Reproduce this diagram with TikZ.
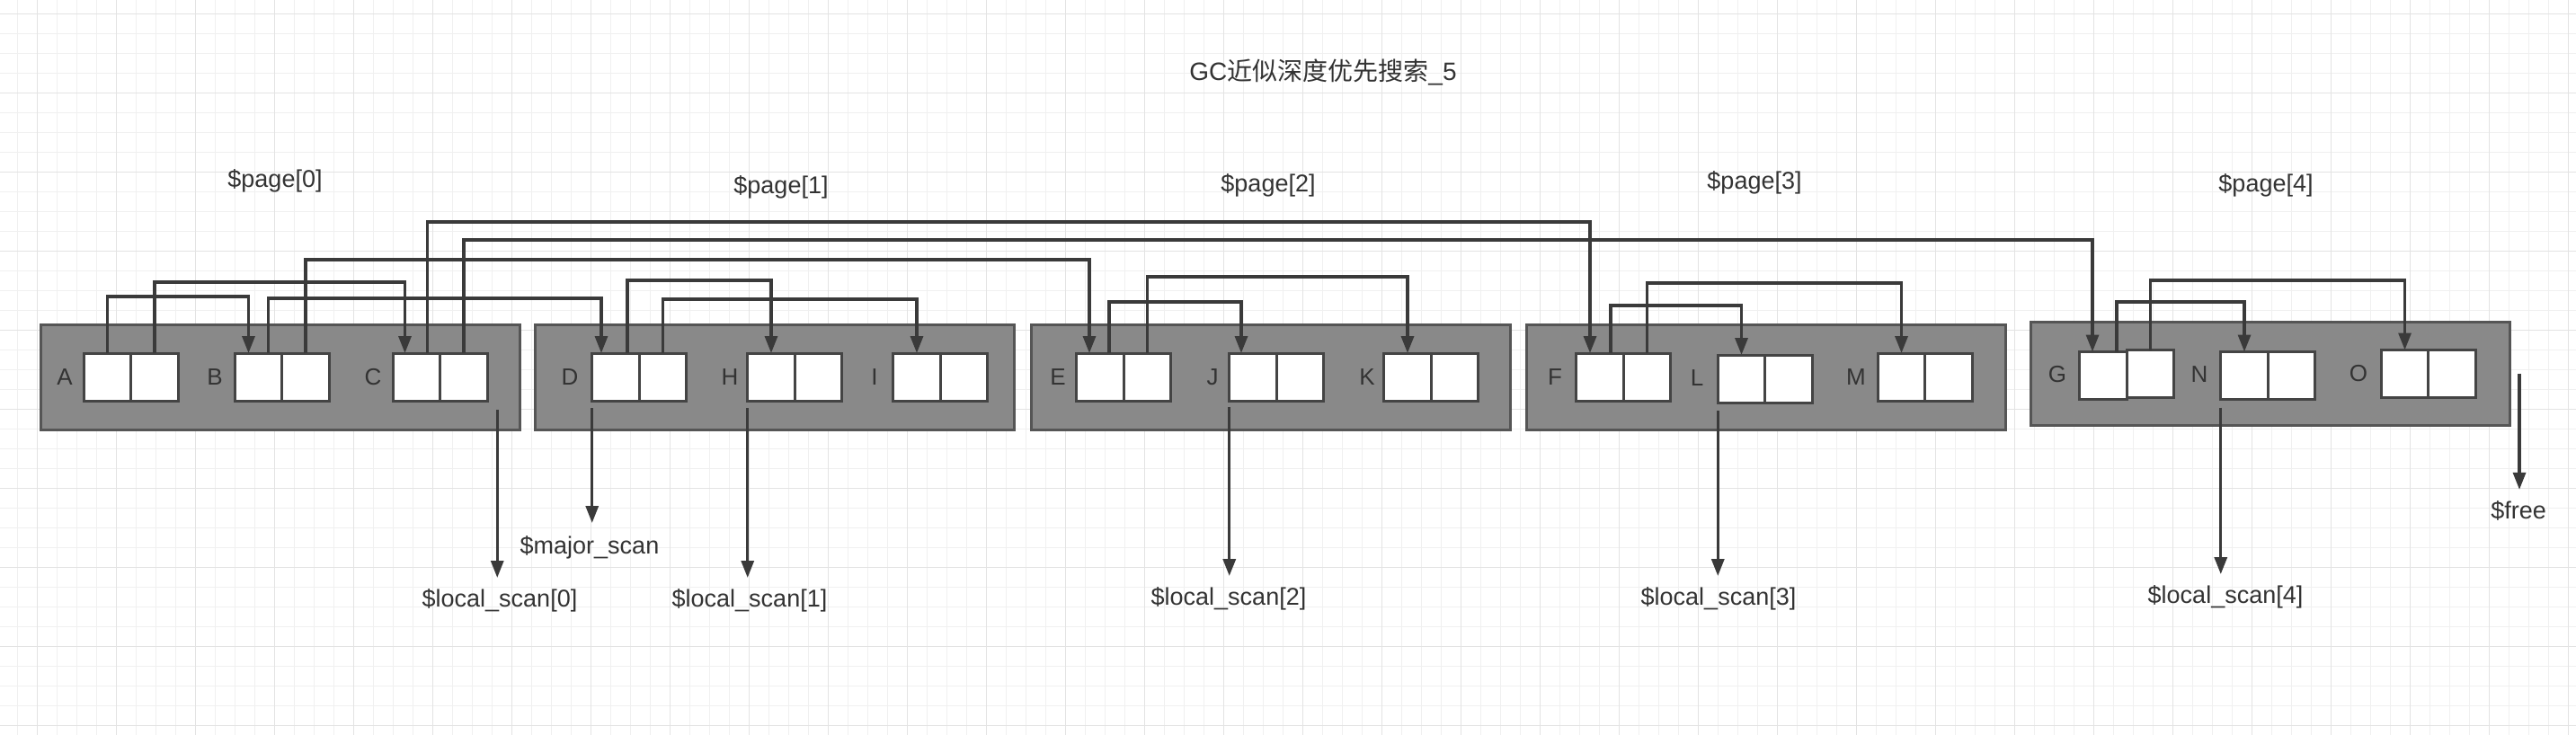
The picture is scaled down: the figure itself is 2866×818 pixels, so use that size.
\documentclass[tikz,border=0pt]{standalone}
\usepackage{fontspec}
\setmainfont{Liberation Sans}
\newfontfamily\cjk{Noto Sans CJK SC}
\usepackage{xcolor}
\usepackage{tikz}
\usetikzlibrary{arrows.meta,positioning}
\definecolor{ink}{HTML}{333333}
\definecolor{wire}{HTML}{3A3A3A}
\definecolor{pagefill}{HTML}{898989}
\definecolor{pageline}{HTML}{555555}
\definecolor{cellline}{HTML}{444444}
\definecolor{gridminor}{HTML}{F0F0F0}
\definecolor{gridmajor}{HTML}{E3E3E3}
\tikzset{
  pagebox/.style={draw=pageline, fill=pagefill, line width=3pt, minimum width=533pt, minimum height=117pt, inner sep=0pt, outer sep=0pt},
  cellbox/.style={draw=cellline, fill=white, line width=3pt, minimum width=52.5pt, minimum height=53pt, inner sep=0pt, outer sep=0pt},
  conn/.style={draw=wire, line width=3.2pt, -{Triangle[length=19pt,width=14pt]}},
  lbl/.style={text=ink, font=\fontsize{27}{32}\selectfont, inner sep=0pt},
  cname/.style={text=ink, font=\fontsize{26}{30}\selectfont, inner sep=0pt},
  gline/.style={draw=gridminor, line width=1pt},
  gmajor/.style={draw=gridmajor, line width=1.5pt}
}
\begin{document}
\begin{tikzpicture}[x=1pt, y=-1pt]
  \useasboundingbox (0,0) rectangle (2866,818);
  \fill[white] (0,0) rectangle (2866,818);

  % background grid
  \foreach \gx in {19.3,41.3,...,2866} \draw[gline] (\gx,0) -- (\gx,818);
  \foreach \gy in {15.7,37.7,...,818} \draw[gline] (0,\gy) -- (2866,\gy);
  \foreach \gx in {41.3,129.3,...,2866} \draw[gmajor] (\gx,0) -- (\gx,818);
  \foreach \gy in {15.7,103.7,...,818} \draw[gmajor] (0,\gy) -- (2866,\gy);

  \node[lbl, font=\fontsize{28}{32}\selectfont] (title) at (1472,80) {GC{\cjk 近似深度优先搜索}\_5};

  % pages
  \node[pagebox] (P0) at (311.5,419.5) {};
  \node[pagebox] (P1) at (861.5,419.5) {};
  \node[pagebox] (P2) at (1413.5,419.5) {};
  \node[pagebox] (P3) at (1965,419.5) {};
  \node[pagebox, minimum height=115pt] (P4) at (2525.5,415.5) {};

  \node[lbl] (pl0) at (306,201) {\$page[0]};
  \node[lbl] (pl1) at (869,208) {\$page[1]};
  \node[lbl] (pl2) at (1411,206) {\$page[2]};
  \node[lbl] (pl3) at (1952,203) {\$page[3]};
  \node[lbl] (pl4) at (2521,206) {\$page[4]};

  % objects
  \node[cellbox] (A1) at (119.5,419.5) {};
  \node[cellbox, right=0pt of A1] (A2) {};
  \node[cellbox] (B1) at (287.5,419.5) {};
  \node[cellbox, right=0pt of B1] (B2) {};
  \node[cellbox] (C1) at (463.5,419.5) {};
  \node[cellbox, right=0pt of C1] (C2) {};
  \node[cellbox] (D1) at (685,419.5) {};
  \node[cellbox, right=0pt of D1] (D2) {};
  \node[cellbox] (H1) at (858,419.5) {};
  \node[cellbox, right=0pt of H1] (H2) {};
  \node[cellbox] (I1) at (1020,419.5) {};
  \node[cellbox, right=0pt of I1] (I2) {};
  \node[cellbox] (E1) at (1224,419.5) {};
  \node[cellbox, right=0pt of E1] (E2) {};
  \node[cellbox] (J1) at (1394,419.5) {};
  \node[cellbox, right=0pt of J1] (J2) {};
  \node[cellbox] (K1) at (1566,419.5) {};
  \node[cellbox, right=0pt of K1] (K2) {};
  \node[cellbox] (F1) at (1780,419.5) {};
  \node[cellbox, right=0pt of F1] (F2) {};
  \node[cellbox] (L1) at (1937.5,421.5) {};
  \node[cellbox, right=0pt of L1] (L2) {};
  \node[cellbox] (M1) at (2115.5,419.5) {};
  \node[cellbox, right=0pt of M1] (M2) {};
  \node[cellbox] (G1) at (2340,418) {};
  \node[cellbox, right=0pt of G1, yshift=2pt] (G2) {};
  \node[cellbox] (N1) at (2497,418) {};
  \node[cellbox, right=0pt of N1] (N2) {};
  \node[cellbox] (O1) at (2675.5,416) {};
  \node[cellbox, right=0pt of O1] (O2) {};

  \node[cname] (nA) at (72,420) {A};
  \node[cname] (nB) at (239,420) {B};
  \node[cname] (nC) at (415,420) {C};
  \node[cname] (nD) at (634,420) {D};
  \node[cname] (nH) at (812,420) {H};
  \node[cname] (nI) at (973,420) {I};
  \node[cname] (nE) at (1177,420) {E};
  \node[cname] (nJ) at (1349,420) {J};
  \node[cname] (nK) at (1521,420) {K};
  \node[cname] (nF) at (1730,420) {F};
  \node[cname] (nL) at (1888,421) {L};
  \node[cname] (nM) at (2065,420) {M};
  \node[cname] (nG) at (2289,417) {G};
  \node[cname] (nN) at (2447,417) {N};
  \node[cname] (nO) at (2624,416) {O};

  % references
  \draw[conn] (A1.north) -- (A1.north |- 0,330) -| ([xshift=-11pt]B1.north);
  \draw[conn] (A2.north) -- (A2.north |- 0,314) -| ([xshift=-13pt]C1.north);
  \draw[conn] ([xshift=11pt]B1.north) -- ([xshift=11pt]B1.north |- 0,332) -| ([xshift=-16pt]D1.north);
  \draw[conn] (B2.north) -- (B2.north |- 0,289) -| ([xshift=-12pt]E1.north);
  \draw[conn] ([xshift=12pt]C1.north) -- ([xshift=12pt]C1.north |- 0,247) -| ([xshift=-11pt]F1.north);
  \draw[conn] (C2.north) -- (C2.north |- 0,267) -| ([xshift=-12pt]G1.north);
  \draw[conn] ([xshift=13pt]D1.north) -- ([xshift=13pt]D1.north |- 0,312) -| (H1.north);
  \draw[conn] (D2.north) -- (D2.north |- 0,333) -| (I1.north);
  \draw[conn] ([xshift=10pt]E1.north) -- ([xshift=10pt]E1.north |- 0,336) -| ([xshift=-13pt]J1.north);
  \draw[conn] (E2.north) -- (E2.north |- 0,308) -| (K1.north);
  \draw[conn] ([xshift=12pt]F1.north) -- ([xshift=12pt]F1.north |- 0,340) -| (L1.north);
  \draw[conn] (F2.north) -- (F2.north |- 0,315) -| (M1.north);
  \draw[conn] ([xshift=15pt]G1.north) -- ([xshift=15pt]G1.north |- 0,336) -| (N1.north);
  \draw[conn] (G2.north) -- (G2.north |- 0,312) -| (O1.north);

  % scan pointers
  \node[lbl] (ls0) at (556,668) {\$local\_scan[0]};
  \node[lbl] (lmaj) at (656,609) {\$major\_scan};
  \node[lbl] (ls1) at (834,668) {\$local\_scan[1]};
  \node[lbl] (ls2) at (1367,666) {\$local\_scan[2]};
  \node[lbl] (ls3) at (1912,666) {\$local\_scan[3]};
  \node[lbl] (ls4) at (2476,664) {\$local\_scan[4]};
  \node[lbl] (lfree) at (2802,568) {\$free};

  \coordinate (s0) at ([xshift=11pt,yshift=-10pt]C2.south east);
  \coordinate (smaj) at ([yshift=-8pt]D1.south west);
  \coordinate (s1) at ([yshift=-8pt]H1.south west);
  \coordinate (s2) at ([yshift=-7pt]J1.south west);
  \coordinate (s3) at ([yshift=-9pt]L1.south west);
  \coordinate (s4) at ([yshift=-9pt]N1.south west);
  \coordinate (sfree) at ([xshift=11pt]P4.east);

  \draw[conn, shorten >=12pt] (s0) -- (s0 |- ls0.north);
  \draw[conn, shorten >=14pt] (smaj) -- (smaj |- lmaj.north);
  \draw[conn, shorten >=12pt] (s1) -- (s1 |- ls1.north);
  \draw[conn, shorten >=12pt] (s2) -- (s2 |- ls2.north);
  \draw[conn, shorten >=12pt] (s3) -- (s3 |- ls3.north);
  \draw[conn, shorten >=12pt] (s4) -- (s4 |- ls4.north);
  \draw[conn, shorten >=12pt] (sfree) -- (sfree |- lfree.north);
\end{tikzpicture}
\end{document}
